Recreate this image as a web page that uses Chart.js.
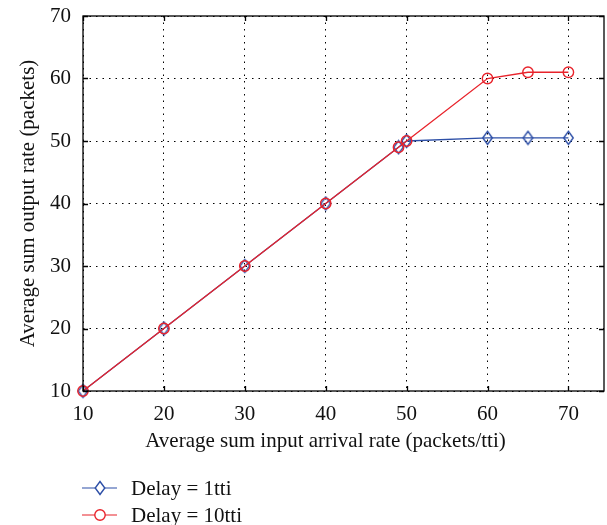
<!DOCTYPE html>
<html>
<head>
<meta charset="utf-8">
<script src="https://cdn.jsdelivr.net/npm/chart.js@4"></script>
<style>
  html, body { margin: 0; padding: 0; background: #fff; }
  #wrap { width: 607px; height: 525px; }
</style>
</head>
<body>
<div id="wrap"><canvas id="myChart" width="607" height="525"></canvas></div>
<script>
const arrivalRates = [10, 20, 30, 40, 49, 50, 60, 65, 70];
const delay1tti = [10, 20, 30, 40, 49, 50, 50.5, 50.5, 50.5];
const delay10tti = [10, 20, 30, 40, 49, 50, 60, 61, 61];
const xTicks = [10, 20, 30, 40, 50, 60, 70];
const yTicks = [10, 20, 30, 40, 50, 60, 70];

const FONT = "'Liberation Serif', 'DejaVu Serif', serif";
const BLUE = '#2d4fa7';
const RED = '#e8232b';

function toPoints(values) {
    return arrivalRates.map((x, i) => ({ x: x, y: values[i] }));
}

// narrow diamond marker, like the matlab one
function diamondPath(ctx, cx, cy) {
    ctx.beginPath();
    ctx.moveTo(cx, cy - 6.5);
    ctx.lineTo(cx + 4.8, cy);
    ctx.lineTo(cx, cy + 6.5);
    ctx.lineTo(cx - 4.8, cy);
    ctx.closePath();
}
function makeDiamond() {
    const c = document.createElement('canvas');
    c.width = 13; c.height = 16;
    const g = c.getContext('2d');
    g.strokeStyle = BLUE;
    g.lineWidth = 1.4;
    diamondPath(g, 6.5, 8);
    g.stroke();
    return c;
}
const diamond = makeDiamond();

function noPadding(scale) {
    scale.paddingLeft = 0;
    scale.paddingRight = 0;
    scale.paddingTop = 0;
    scale.paddingBottom = 0;
}

// box round the plot and inward tick marks on all four sides
const frame = {
    id: 'frame',
    afterLayout(chart) {
        // keep the plot box where the original figure has it
        const a = chart.chartArea;
        const x = chart.scales.x;
        a.right = 604;
        a.width = a.right - a.left;
        x.right = 604;
        x.width = 604 - x.left;
        x.configure();
        // the axis title sits centred under 10..70, not under the whole box
        x.right = Math.round(x.getPixelForValue(70));
    },
    afterDatasetsDraw(chart) {
        const { ctx, chartArea: a, scales } = chart;
        ctx.save();
        ctx.strokeStyle = '#000';
        ctx.lineWidth = 1.3;
        ctx.strokeRect(a.left, a.top, a.right - a.left, a.bottom - a.top);
        const len = 5;
        ctx.beginPath();
        xTicks.forEach(v => {
            const px = Math.round(scales.x.getPixelForValue(v)) + 0.5;
            ctx.moveTo(px, a.bottom); ctx.lineTo(px, a.bottom - len);
            ctx.moveTo(px, a.top); ctx.lineTo(px, a.top + len);
        });
        yTicks.forEach(v => {
            const py = Math.round(scales.y.getPixelForValue(v)) + 0.5;
            ctx.moveTo(a.left, py); ctx.lineTo(a.left + len, py);
            ctx.moveTo(a.right, py); ctx.lineTo(a.right - len, py);
        });
        ctx.stroke();
        ctx.restore();
    },
    afterDraw(chart) {
        // legend under the axis title
        const { ctx } = chart;
        ctx.save();
        ctx.font = '21px ' + FONT;
        ctx.textBaseline = 'middle';
        chart.data.datasets.forEach((ds, i) => {
            const y = 488 + i * 27;
            ctx.strokeStyle = ds.borderColor;
            ctx.lineWidth = 1.2;
            ctx.beginPath();
            ctx.moveTo(82, y); ctx.lineTo(117, y);
            ctx.stroke();
            ctx.lineWidth = 1.4;
            ctx.fillStyle = '#fff';
            if (ds.label.indexOf('10tti') < 0) {
                diamondPath(ctx, 100, y);
            } else {
                ctx.beginPath();
                ctx.arc(100, y, 5.2, 0, Math.PI * 2);
            }
            ctx.fill();
            ctx.stroke();
            ctx.fillStyle = '#111';
            ctx.fillText(ds.label, 131, y + 1);
        });
        ctx.restore();
    }
};

new Chart(document.getElementById('myChart'), {
    type: 'line',
    data: {
        datasets: [{
            label: 'Delay = 1tti',
            data: toPoints(delay1tti),
            borderColor: BLUE,
            backgroundColor: 'rgba(255,255,255,0)',
            borderWidth: 1.3,
            pointStyle: diamond,
            clip: false,
            order: 1
        }, {
            label: 'Delay = 10tti',
            data: toPoints(delay10tti),
            borderColor: RED,
            backgroundColor: 'rgba(255,255,255,0)',
            borderWidth: 1.3,
            pointStyle: 'circle',
            pointRadius: 5.2,
            pointBorderWidth: 1.4,
            clip: false,
            order: 0
        }]
    },
    options: {
        responsive: false,
        animation: false,
        layout: { padding: { left: 16, right: 3, top: 16, bottom: 71 } },
        plugins: {
            legend: { display: false },
            tooltip: { enabled: false }
        },
        scales: {
            x: {
                type: 'linear',
                min: 10,
                max: 74.4,
                afterBuildTicks: scale => { scale.ticks = xTicks.map(v => ({ value: v })); },
                afterFit: scale => { scale.height = 63; noPadding(scale); },
                ticks: { color: '#111', font: { family: FONT, size: 21 }, padding: 11, maxRotation: 0 },
                grid: { color: '#000', lineWidth: 1, drawTicks: false },
                border: { display: false, dash: [1.5, 5] },
                title: {
                    display: true,
                    text: 'Average sum input arrival rate (packets/tti)',
                    color: '#111',
                    font: { family: FONT, size: 21 },
                    padding: { top: 0, bottom: 0 }
                }
            },
            y: {
                min: 10,
                max: 70,
                afterBuildTicks: scale => { scale.ticks = yTicks.map(v => ({ value: v })); },
                afterFit: scale => { scale.width = 67; noPadding(scale); },
                ticks: { color: '#111', font: { family: FONT, size: 21 }, padding: 12 },
                grid: { color: '#000', lineWidth: 1, drawTicks: false },
                border: { display: false, dash: [1.5, 5] },
                title: {
                    display: true,
                    text: 'Average sum output rate (packets)',
                    color: '#111',
                    font: { family: FONT, size: 21 },
                    padding: { top: 0, bottom: 0 }
                }
            }
        }
    },
    plugins: [frame]
});
</script>
</body>
</html>
